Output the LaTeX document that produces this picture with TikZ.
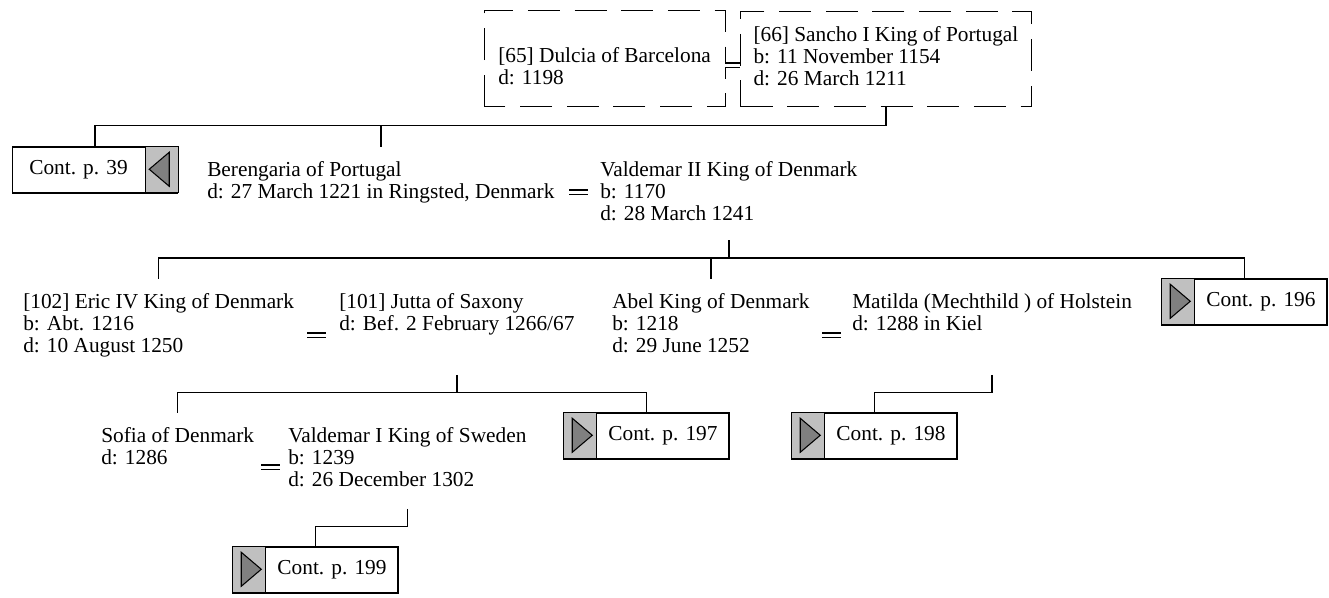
\documentclass[tikz,border=0pt]{standalone}
\usepackage{fontspec}
\setmainfont{Liberation Serif}
\usetikzlibrary{positioning}

\definecolor{tabgray}{HTML}{C0C0C0}
\definecolor{trigray}{HTML}{808080}

\tikzset{
    person/.style={anchor=north west, align=left, inner xsep=0pt, inner ysep=11.25pt,
        font=\fontsize{16}{16.5}\selectfont,
        execute at begin node=\strut, execute at end node=\strut},
    dashbox/.style={draw, line width=0.75pt, dash pattern=on 24pt off 11pt},
    contbox/.style={draw, fill=white, line width=1.1pt, minimum width=123.75pt,
        minimum height=34.5pt, inner sep=0pt, font=\fontsize{16}{16.5}\selectfont},
    tab/.style={draw, fill=tabgray, line width=1.1pt},
    tri/.style={draw, fill=trigray, line width=0.8pt, line join=miter},
    link/.style={line width=1.1pt},
    wed/.style={double, double distance=2.25pt, line width=1.1pt}
}

\begin{document}
\begin{tikzpicture}[x=0.75pt, y=-0.75pt]
    \useasboundingbox (0,0) rectangle (1329,597);

    % Parents
    \node[person, inner xsep=10.5pt] (dulcia) at (484,32.6) {[65] Dulcia of Barcelona\\d: 1198};
    \node[person, dashbox, inner xsep=9.75pt] (sancho) at (740,10.6)
        {[66] Sancho I King of Portugal\\b: 11 November 1154\\d: 26 March 1211};
    \draw[dashbox] (dulcia.south west) rectangle (dulcia.east |- sancho.north);
    \draw[wed] (dulcia.east |- 0,65) -- (sancho.west |- 0,65);

    % Generation 1
    \node[person] (berengaria) at (207,146.6) {Berengaria of Portugal\\d: 27 March 1221 in Ringsted, Denmark};
    \node[person] (valdemarII) at (600,146.6) {Valdemar II King of Denmark\\b: 1170\\d: 28 March 1241};
    \draw[wed] (569,192) -- (588,192);

    % Generation 2
    \node[person] (eric) at (23,278.6) {[102] Eric IV King of Denmark\\b: Abt. 1216\\d: 10 August 1250};
    \node[person] (jutta) at (339,278.6) {[101] Jutta of Saxony\\d: Bef. 2 February 1266/67};
    \draw[wed] (307,335) -- (326,335);
    \node[person] (abel) at (612,278.6) {Abel King of Denmark\\b: 1218\\d: 29 June 1252};
    \node[person] (matilda) at (852,278.6) {Matilda (Mechthild ) of Holstein\\d: 1288 in Kiel};
    \draw[wed] (822,335) -- (841,335);

    % Generation 3
    \node[person] (sofia) at (101,412.6) {Sofia of Denmark\\d: 1286};
    \node[person] (valdemarI) at (288,412.6) {Valdemar I King of Sweden\\b: 1239\\d: 26 December 1302};
    \draw[wed] (261,467) -- (280,467);

    % Continuation boxes
    \node[contbox] (cont39) at (95,170) {Cont. p. 39\hspace*{24.75pt}};
    \node[contbox] (cont196) at (1244.5,302) {\hspace*{24.75pt}Cont. p. 196};
    \node[contbox] (cont197) at (646.5,436) {\hspace*{24.75pt}Cont. p. 197};
    \node[contbox] (cont198) at (874.5,436) {\hspace*{24.75pt}Cont. p. 198};
    \node[contbox] (cont199) at (315.5,570) {\hspace*{24.75pt}Cont. p. 199};

    \draw[tab] (cont39.north east) rectangle ++(-33,46);
    \draw[tri] ([shift={(-9,6)}]cont39.north east) -- ++(-20,17) -- ++(20,17) -- cycle;
    \foreach \c in {cont196,cont197,cont198,cont199} {
        \draw[tab] (\c.north west) rectangle ++(33,46);
        \draw[tri] ([shift={(9,6)}]\c.north west) -- ++(20,17) -- ++(-20,17) -- cycle;
    }

    % Descent lines
    \draw[link] (sancho.south) -- ++(0,18.4) coordinate (j1) -| (cont39.north);
    \draw[link] (berengaria.north) -- (berengaria.north |- j1);

    \draw[link] ([yshift=2pt]valdemarII.south) -- ++(0,18) coordinate (j2) -| (eric.north);
    \draw[link] (j2) -| (cont196.north);
    \draw[link] (abel.north) -- (abel.north |- j2);

    \draw[link] (jutta.south |- eric.south) -- ++(0,18) coordinate (j3) -| (sofia.north);
    \draw[link] (j3) -| (cont197.north);

    \draw[link] (matilda.south |- abel.south) -- ++(0,18) coordinate (j4) -| (cont198.north);

    \draw[link] (valdemarI.south) -- ++(0,18) coordinate (j5) -| (cont199.north);
\end{tikzpicture}
\end{document}
